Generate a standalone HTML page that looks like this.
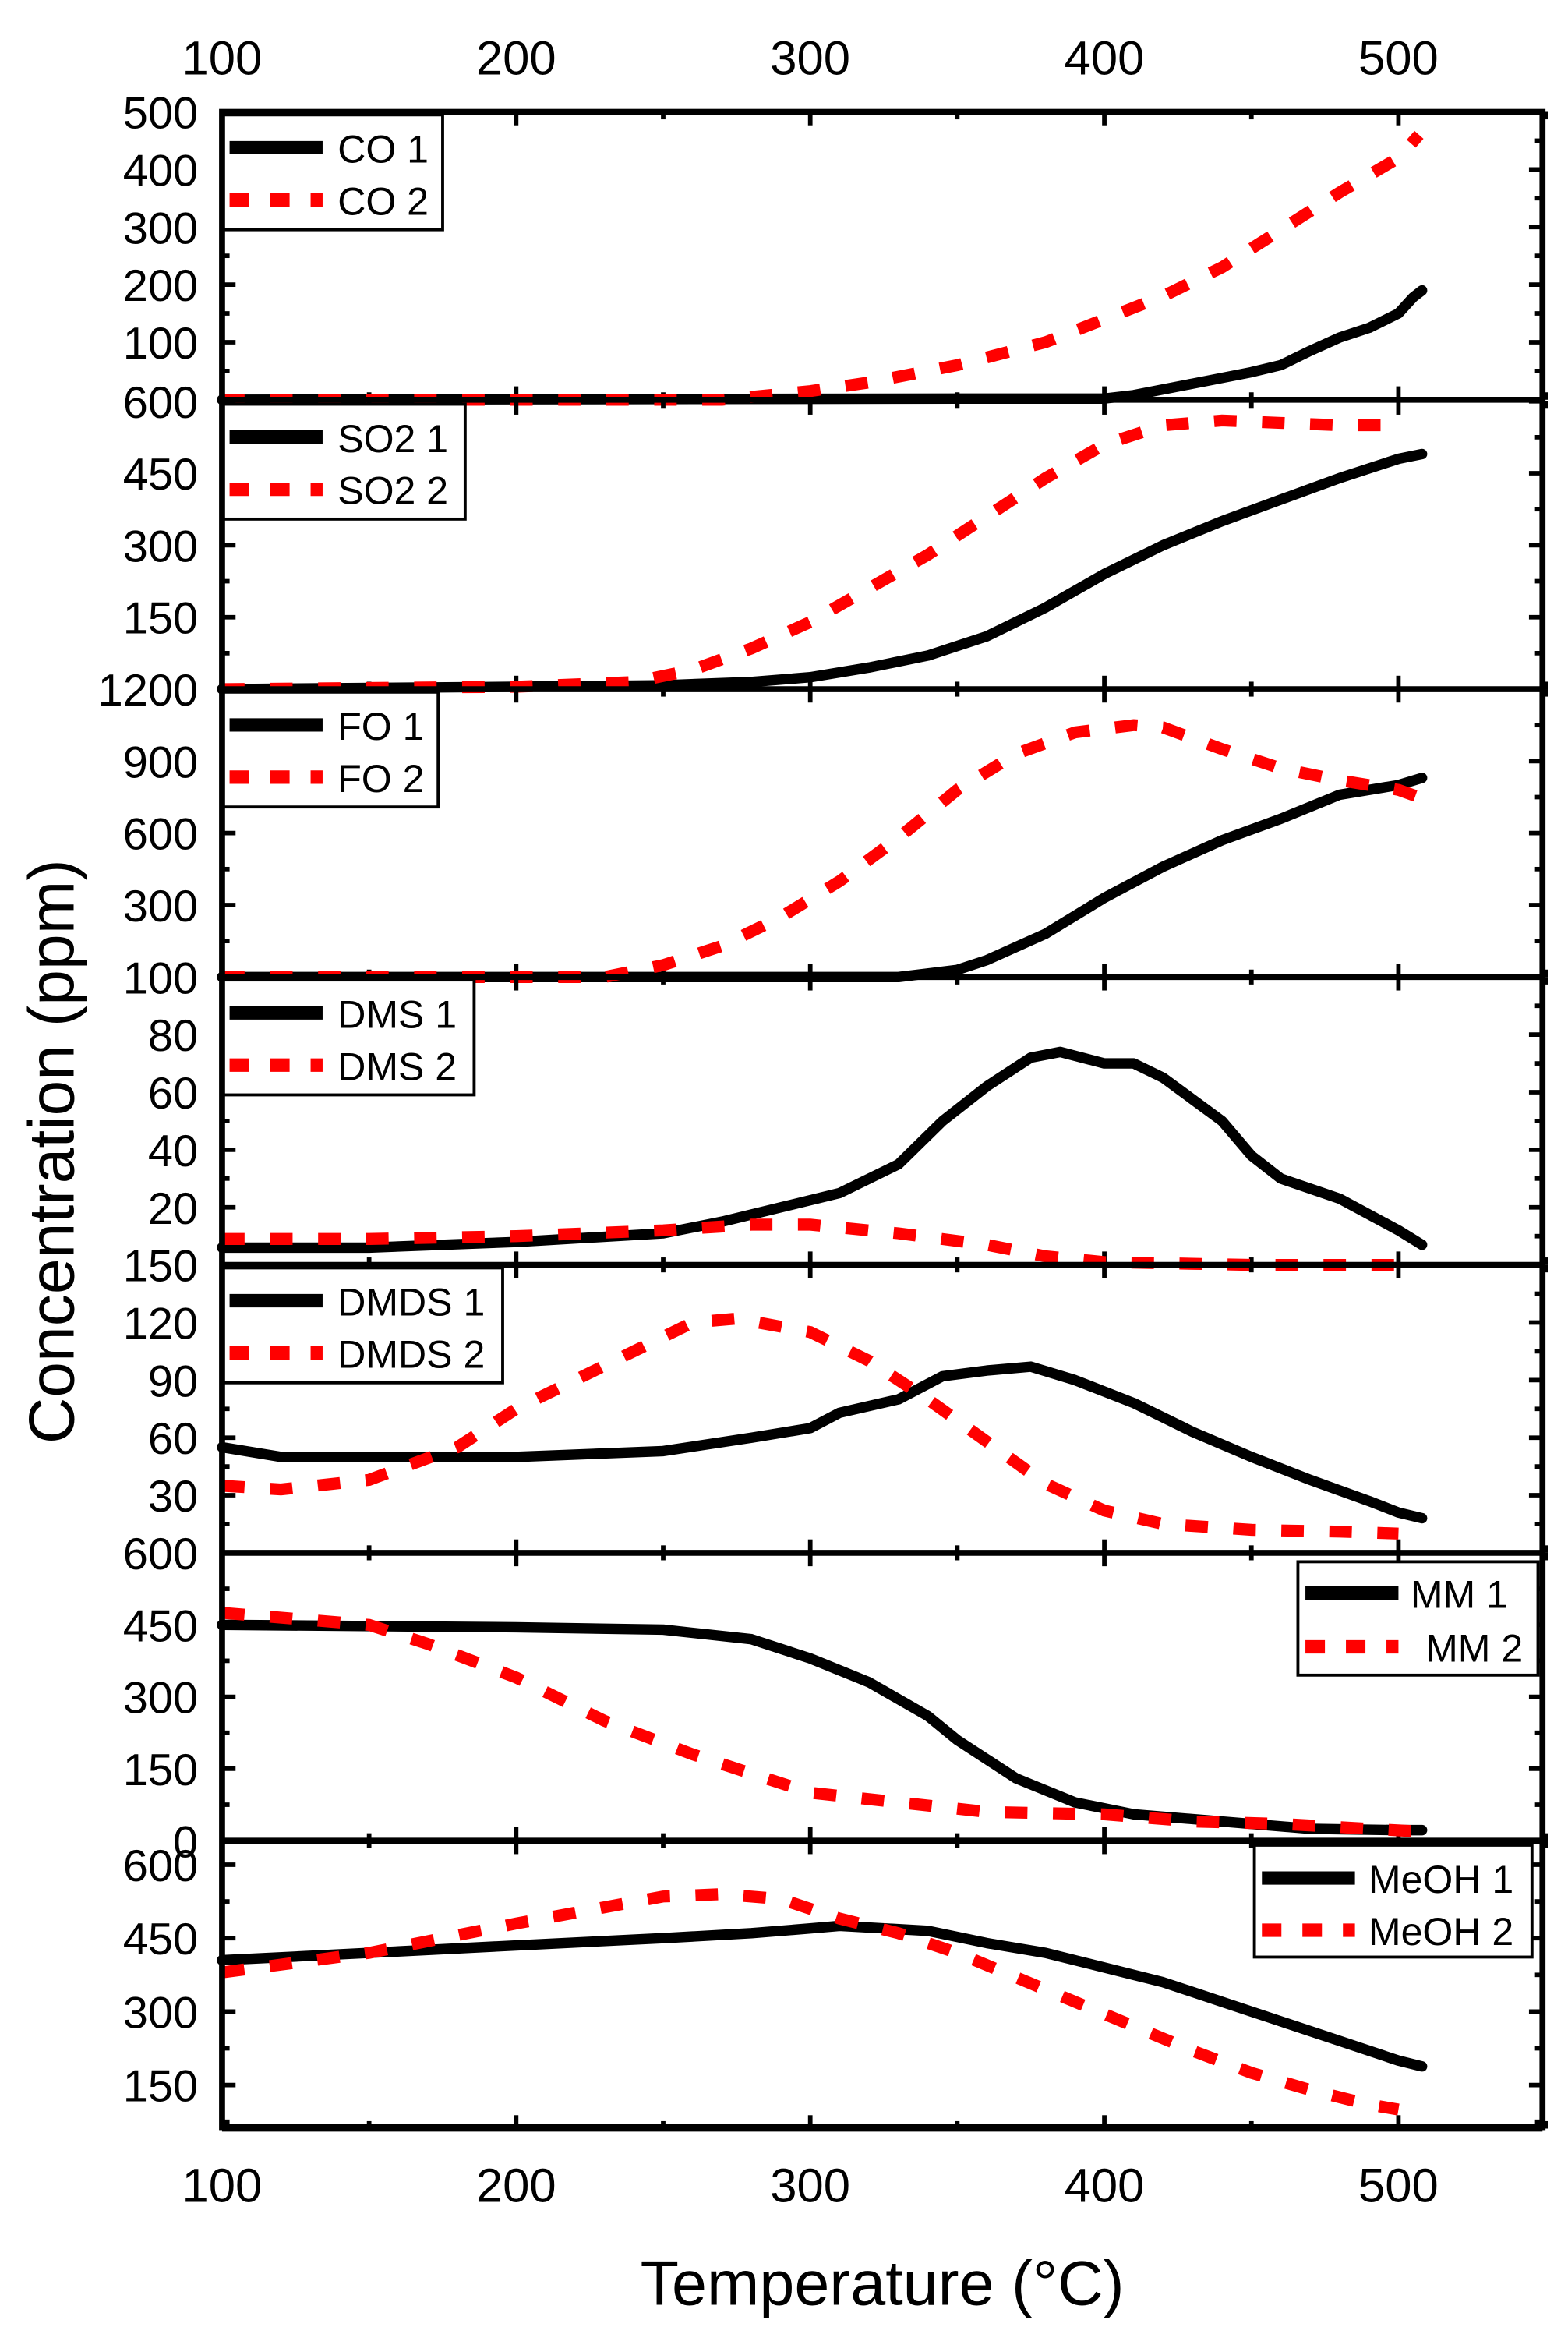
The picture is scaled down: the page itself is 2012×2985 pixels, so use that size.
<!DOCTYPE html>
<html><head><meta charset="utf-8"><style>
html,body{margin:0;padding:0;background:#fff;}
svg{display:block;}
text{font-family:"Liberation Sans",Arial,sans-serif;fill:#000;}
</style></head><body>
<svg id="s" width="2012" height="2985" viewBox="0 0 1045 1560" preserveAspectRatio="none" xmlns="http://www.w3.org/2000/svg">
<rect width="1045" height="1560" fill="#fff"/>
<g id="g"></g>
<text x="34" y="772" font-size="43" text-anchor="middle" transform="rotate(-90 34 772)" dy="15">Concentration (ppm)</text>
<text x="588" y="1545" font-size="42" text-anchor="middle">Temperature (°C)</text>
</svg>
<script>
const NS="http://www.w3.org/2000/svg",g=document.getElementById('g');
const L=148,R=1028;
const X=t=>L+(t-100)*1.96;
function el(n,a,txt){const e=document.createElementNS(NS,n);for(const k in a)e.setAttribute(k,a[k]);if(txt!==undefined)e.textContent=txt;g.appendChild(e);return e;}
const panels=[
{top:75,min:0,max:500,labels:[100,200,300,400,500],minor:50,s1:[[100,0],[350,2],[400,2],[410,8],[430,28],[450,48],[460,60],[470,85],[480,108],[490,125],[500,150],[505,178],[508,190]],
 s2:[[100,0],[270,0],[280,5],[300,15],[320,30],[350,60],[380,100],[400,140],[420,180],[440,230],[460,295],[480,360],[500,420],[507,460]],n:"CO",lw:147,leg:"L"},
{top:269,min:0,max:600,labels:[150,300,450,600],minor:75,s1:[[100,0],[200,5],[250,8],[280,15],[300,25],[320,45],[340,70],[360,110],[380,170],[400,240],[420,300],[440,350],[460,395],[480,440],[500,480],[508,490]],
 s2:[[100,0],[200,5],[240,15],[260,40],[280,85],[300,140],[320,210],[340,280],[360,360],[380,440],[400,510],[420,550],[440,560],[460,555],[480,550],[500,550]],n:"SO2",lw:162,leg:"L"},
{top:462,min:0,max:1200,labels:[300,600,900,1200],minor:150,s1:[[100,0],[330,0],[340,15],[350,30],[360,70],[380,180],[400,330],[420,460],[440,570],[460,660],[480,760],[500,800],[508,830]],
 s2:[[100,0],[230,0],[250,50],[270,130],[290,250],[310,400],[330,580],[350,780],[370,930],[390,1020],[410,1050],[420,1040],[440,950],[460,870],[480,820],[500,780],[507,750]],n:"FO",lw:144,leg:"L"},
{top:655,min:0,max:100,labels:[20,40,60,80,100],minor:10,s1:[[100,6],[150,6],[200,8],[250,11],[270,15],[290,20],[310,25],[330,35],[345,50],[360,62],[375,72],[385,74],[400,70],[410,70],[420,65],[440,50],[450,38],[460,30],[480,23],[500,12],[508,7]],
 s2:[[100,9],[150,9],[200,10],[250,12],[280,14],[300,14],[330,11],[360,7],[380,3],[400,1],[450,0],[500,0]],n:"DMS",lw:168,leg:"L"},
{top:848,min:0,max:150,labels:[30,60,90,120,150],minor:15,s1:[[100,55],[120,50],[200,50],[250,53],[280,60],[300,65],[310,73],[330,80],[345,92],[360,95],[375,97],[390,90],[410,78],[430,63],[450,50],[470,38],[490,27],[500,21],[508,18]],
 s2:[[100,35],[120,33],[150,38],[180,55],[200,75],[220,90],[240,105],[260,120],[275,122],[300,115],[320,100],[340,80],[360,58],[380,36],[400,22],[420,15],[450,12],[480,11],[500,10]],n:"DMDS",lw:187,leg:"L"},
{top:1041,min:0,max:600,labels:[0,150,300,450,600],minor:75,s1:[[100,450],[200,445],[250,440],[280,420],[300,380],[320,330],[340,260],[350,210],[370,130],[390,80],[410,55],[440,40],[470,25],[500,22],[508,22]],
 s2:[[100,475],[150,450],[170,410],[200,340],[230,250],[260,180],[280,140],[300,100],[330,80],[360,60],[400,55],[430,40],[460,35],[490,25],[505,20]],n:"MM",leg:"MM"},
{top:1234,min:61,max:649,labels:[150,300,450,600],minor:75,s1:[[100,405],[150,420],[200,435],[250,450],[280,460],[300,470],[310,475],[340,465],[360,440],[380,420],[400,390],[420,360],[440,320],[460,280],[480,240],[500,200],[508,188]],
 s2:[[100,380],[150,420],[200,480],[250,535],[270,540],[290,530],[310,490],[330,460],[350,420],[370,370],[390,320],[410,270],[430,220],[450,175],[470,140],[490,110],[500,100]],n:"MeOH",leg:"MeOH"}];
const H=193;
panels.forEach((p,i)=>{
 const bot=p.top+H,Y=v=>bot-(v-p.min)/(p.max-p.min)*H;
 for(let v=Math.ceil(p.min/p.minor)*p.minor;v<=p.max;v+=p.minor){
  const y=Y(v),maj=p.labels.includes(v)||(v%(p.minor*2)===0&&i<5);
  const len=maj?9:5;
  el('line',{x1:L,y1:y,x2:L+len,y2:y,stroke:'#000','stroke-width':3});
  el('line',{x1:R,y1:y,x2:R-len,y2:y,stroke:'#000','stroke-width':3});
 }
 p.labels.forEach(v=>{el('text',{x:L-16,y:Y(v)+11,'font-size':30,'text-anchor':'end'},String(v));});
 for(let t=150;t<=550;t+=50){const x=X(t),len=(t%100===0)?9:5;
  el('line',{x1:x,y1:p.top,x2:x,y2:p.top+len,stroke:'#000','stroke-width':3});
  el('line',{x1:x,y1:bot,x2:x,y2:bot-len,stroke:'#000','stroke-width':3});}
 const path=s=>'M'+s.map(q=>X(q[0]).toFixed(1)+','+Y(q[1]).toFixed(1)).join(' L');
 el('path',{d:path(p.s1),fill:'none',stroke:'#000','stroke-width':7,'stroke-linejoin':'round','stroke-linecap':'round'});
 el('path',{d:path(p.s2),fill:'none',stroke:'#f00','stroke-width':8,'stroke-dasharray':'15 17'});
 if(p.leg==="L"){
  el('rect',{x:L,y:p.top+2,width:p.lw,height:77,fill:'#fff',stroke:'#000','stroke-width':2});
  el('line',{x1:153,y1:p.top+24,x2:215,y2:p.top+24,stroke:'#000','stroke-width':9});
  el('line',{x1:153,y1:p.top+59,x2:215,y2:p.top+59,stroke:'#f00','stroke-width':9,'stroke-dasharray':'13 14'});
  el('text',{x:225,y:p.top+34,'font-size':26},p.n+' 1');
  el('text',{x:225,y:p.top+69,'font-size':26},p.n+' 2');
 } else if(p.leg==="MM"){
  el('rect',{x:865,y:1047,width:160,height:76,fill:'#fff',stroke:'#000','stroke-width':2});
  el('line',{x1:870,y1:1068,x2:932,y2:1068,stroke:'#000','stroke-width':9});
  el('line',{x1:870,y1:1104,x2:932,y2:1104,stroke:'#f00','stroke-width':9,'stroke-dasharray':'13 14'});
  el('text',{x:940,y:1078,'font-size':26},'MM 1');
  el('text',{x:950,y:1114,'font-size':26},'MM 2');
 } else {
  el('rect',{x:836,y:1237,width:185,height:75,fill:'#fff',stroke:'#000','stroke-width':2});
  el('line',{x1:841,y1:1259,x2:903,y2:1259,stroke:'#000','stroke-width':9});
  el('line',{x1:841,y1:1294,x2:903,y2:1294,stroke:'#f00','stroke-width':9,'stroke-dasharray':'13 14'});
  el('text',{x:912,y:1269,'font-size':26},'MeOH 1');
  el('text',{x:912,y:1304,'font-size':26},'MeOH 2');
 }
 el('line',{x1:L,y1:bot,x2:R,y2:bot,stroke:'#000','stroke-width':4});
});
el('rect',{x:L,y:75,width:R-L,height:H*7,fill:'none',stroke:'#000','stroke-width':4});
[100,200,300,400,500].forEach(t=>{
 el('text',{x:X(t),y:50,'font-size':32,'text-anchor':'middle'},String(t));
 el('text',{x:X(t),y:1476,'font-size':32,'text-anchor':'middle'},String(t));
});
</script>
</body></html>
